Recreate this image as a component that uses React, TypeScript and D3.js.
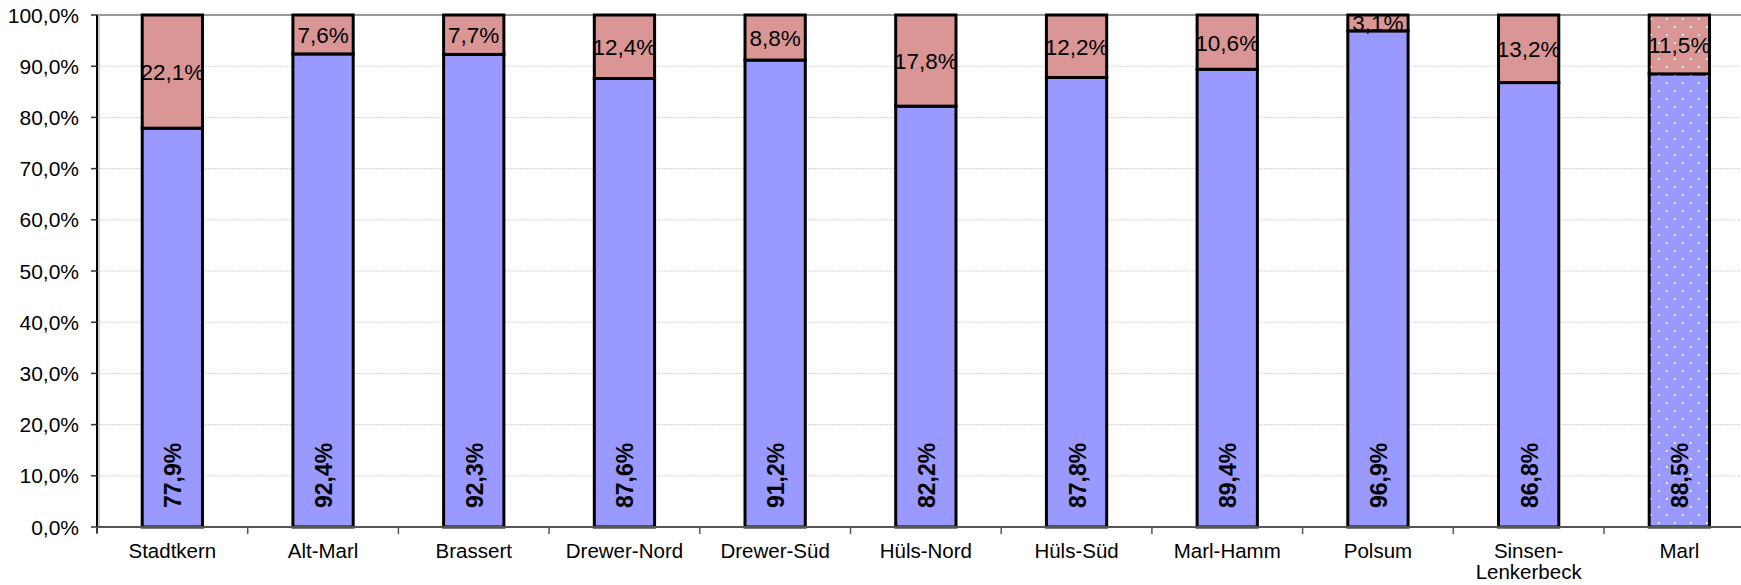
import React from 'react';
import * as d3 from 'd3';

const categories = ['Stadtkern', 'Alt-Marl', 'Brassert', 'Drewer-Nord', 'Drewer-Süd', 'Hüls-Nord', 'Hüls-Süd', 'Marl-Hamm', 'Polsum', 'Sinsen-\nLenkerbeck', 'Marl'];
const blueValues = [77.9, 92.4, 92.3, 87.6, 91.2, 82.2, 87.8, 89.4, 96.9, 86.8, 88.5];
const redValues = [22.1, 7.6, 7.7, 12.4, 8.8, 17.8, 12.2, 10.6, 3.1, 13.2, 11.5];
const yTicks = [0, 10, 20, 30, 40, 50, 60, 70, 80, 90, 100];

const W = 1741;
const H = 585;
const left = 97;
const top = 15;
const bottom = 527;
const step = 150.7;
const right = left + step * categories.length;

const fmt = (v: number) => v.toFixed(1).replace('.', ',') + '%';
const font = '"Liberation Sans", Arial, sans-serif';

export default function App() {
  const x = d3.scaleBand<string>().domain(categories).range([left, right]).paddingInner(0.6).paddingOuter(0.3);
  const y = d3.scaleLinear().domain([0, 100]).range([bottom, top]);
  const bw = x.bandwidth();

  return (
    <div style={{ position: 'fixed', left: 0, top: 0 }}>
      <svg width={W} height={H} style={{ display: 'block', background: '#fff' }} fontFamily={font}>
        <defs>
          <pattern id="dots" width={16} height={16} patternUnits="userSpaceOnUse">
            <rect x={2} y={2} width={1.5} height={2} fill="#fff" />
            <rect x={10} y={10} width={1.5} height={2} fill="#fff" />
          </pattern>
          <clipPath id="plot">
            <rect x={0} y={top} width={W} height={H - top} />
          </clipPath>
        </defs>

        {/* gridlines */}
        {yTicks.slice(1, -1).map((t) => (
          <line key={t} x1={left} x2={W} y1={y(t)} y2={y(t)} stroke="#d4d4d4" strokeWidth={1} strokeDasharray="2,1" />
        ))}
        <line x1={left} x2={W} y1={top} y2={top} stroke="#999" strokeWidth={2} />
        <line x1={left + 2} x2={left + 2} y1={top} y2={bottom} stroke="#bbb" strokeWidth={1.5} />

        {/* bars */}
        {categories.map((c, i) => {
          const x0 = x(c)!;
          const isMarl = i === categories.length - 1;
          const b = blueValues[i];
          const r = redValues[i];
          return (
            <g key={c}>
              <rect x={x0} y={y(b)} width={bw} height={y(0) - y(b)} fill="#9999FF" stroke="#000" strokeWidth={3} />
              <rect x={x0} y={y(b + r)} width={bw} height={y(b) - y(b + r)} fill="#DA9694" stroke="#000" strokeWidth={3} />
              {isMarl && (
                <>
                  <rect x={x0 + 1.5} y={y(b) + 1.5} width={bw - 3} height={y(0) - y(b) - 3} fill="url(#dots)" />
                  <rect x={x0 + 1.5} y={y(b + r) + 1.5} width={bw - 3} height={y(b) - y(b + r) - 3} fill="url(#dots)" />
                </>
              )}
            </g>
          );
        })}

        {/* labels */}
        <g clipPath="url(#plot)">
          {categories.map((c, i) => {
            const cx = x(c)! + bw / 2;
            const b = blueValues[i];
            const r = redValues[i];
            return (
              <g key={c}>
                <text x={cx} y={(y(b) + y(b + r)) / 2 + 1} textAnchor="middle" dominantBaseline="central" fontSize={22.5} fill="#000">
                  {fmt(r)}
                </text>
                <text transform={`translate(${cx + 1},${bottom - 19}) rotate(-90)`} textAnchor="start" dominantBaseline="central" fontSize={23} fontWeight="bold" fill="#000">
                  {fmt(b)}
                </text>
              </g>
            );
          })}
        </g>

        {/* y axis */}
        <line x1={left} x2={left} y1={top} y2={bottom + 6} stroke="#000" strokeWidth={2} />
        {yTicks.map((t) => (
          <g key={t}>
            <line x1={left - 6} x2={left} y1={y(t)} y2={y(t)} stroke="#333" strokeWidth={1.5} />
            <text x={79} y={y(t)} textAnchor="end" dominantBaseline="central" fontSize={21} fill="#000">
              {fmt(t)}
            </text>
          </g>
        ))}

        {/* x axis */}
        <line x1={left} x2={W} y1={bottom} y2={bottom} stroke="#555" strokeWidth={2} />
        {d3.range(categories.length + 1).map((i) => (
          <line key={i} x1={left + i * x.step()} x2={left + i * x.step()} y1={bottom} y2={bottom + 7} stroke="#555" strokeWidth={1.5} />
        ))}
        {categories.map((c) => {
          const cx = x(c)! + bw / 2;
          return (
            <text key={c} x={cx} y={558} textAnchor="middle" fontSize={20.5} fill="#000">
              {c.split('\n').map((line, k) => (
                <tspan key={k} x={cx} dy={k === 0 ? 0 : 21}>
                  {line}
                </tspan>
              ))}
            </text>
          );
        })}
      </svg>
    </div>
  );
}
